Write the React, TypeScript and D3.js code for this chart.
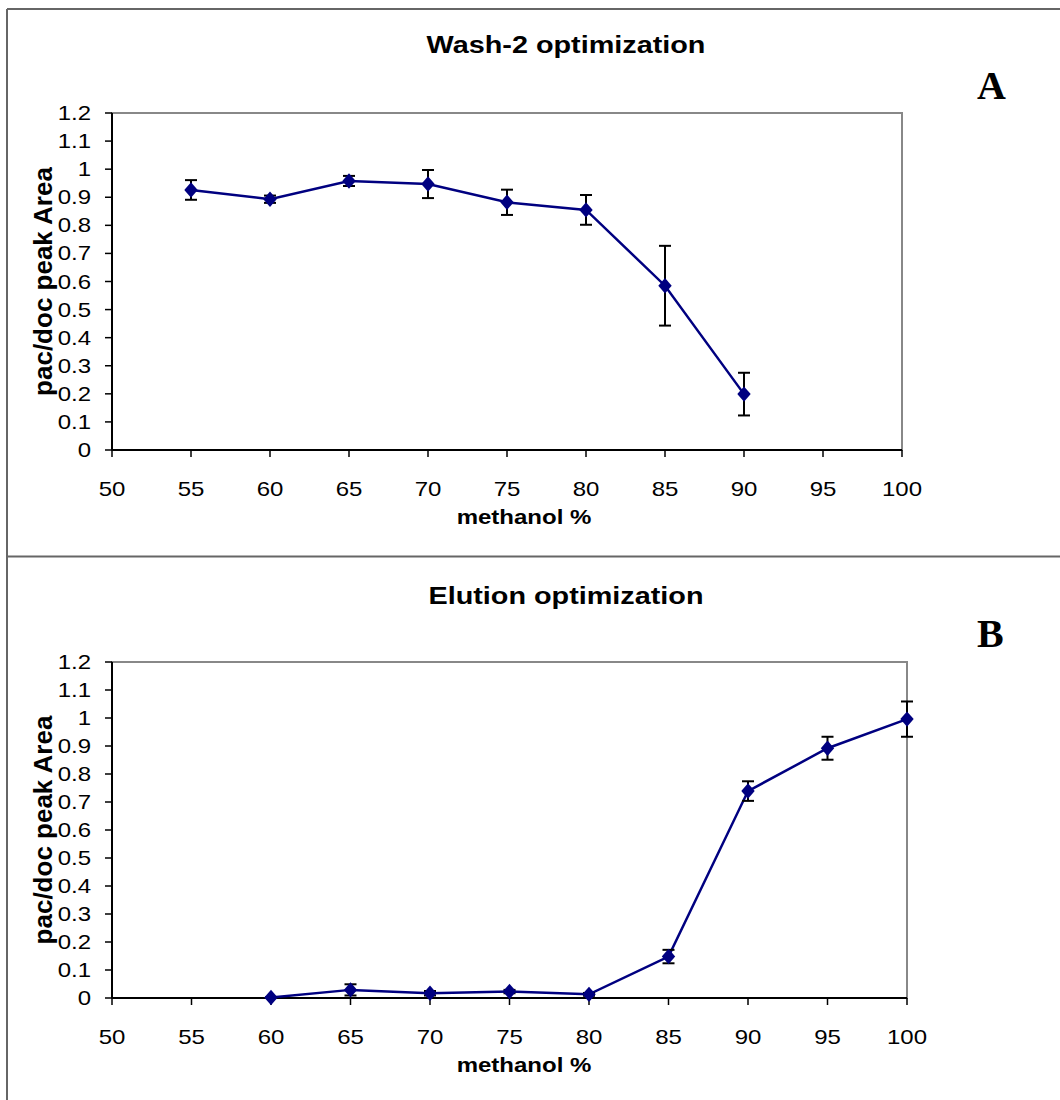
import React from 'react';
import * as d3 from 'd3';

// x axis ticks (methanol %)
const methanolTicks = [50, 55, 60, 65, 70, 75, 80, 85, 90, 95, 100];
const areaTicks = [0, 0.1, 0.2, 0.3, 0.4, 0.5, 0.6, 0.7, 0.8, 0.9, 1, 1.1, 1.2];

// panel A: wash-2
const washX = [55, 60, 65, 70, 75, 80, 85, 90];
const washY = [0.926, 0.893, 0.958, 0.947, 0.882, 0.855, 0.585, 0.199];
const washErr = [0.035, 0.013, 0.018, 0.05, 0.045, 0.053, 0.142, 0.076];

// panel B: elution
const elutionX = [60, 65, 70, 75, 80, 85, 90, 95, 100];
const elutionY = [0.002, 0.029, 0.017, 0.023, 0.013, 0.148, 0.739, 0.892, 0.996];
const elutionErr = [0, 0.02, 0.008, 0.006, 0.005, 0.024, 0.035, 0.041, 0.063];

const SX = 1.2; // the figure is stretched sideways
const sans = 'Liberation Sans, Arial, sans-serif';

function Txt({ x, y, size, bold, anchor, children }: any) {
  return (
    <text transform={`translate(${x},${y}) scale(${SX},1)`} fontFamily={sans} fontSize={size}
      fontWeight={bold ? 'bold' : 'normal'} textAnchor={anchor || 'middle'} fill="#000">{children}</text>
  );
}

function Panel({ xs, ys, errs, box, title, titleY, letter, letterY }: any) {
  const x = d3.scaleLinear().domain([50, 100]).range([box.left, box.right]);
  const y = d3.scaleLinear().domain([0, 1.2]).range([box.bottom, box.top]);
  const pts = xs.map((v: number, i: number) => [v, ys[i], errs[i]]);
  const line = d3.line<any>().x(d => x(d[0])).y(d => y(d[1]));
  const diamond = d3.symbol(d3.symbolSquare, 90)();
  return (
    <g>
      <Txt x={566} y={titleY} size={24} bold>{title}</Txt>
      <text x={977} y={letterY} fontFamily="Liberation Serif, Times New Roman, serif" fontSize={40}
        fontWeight="bold">{letter}</text>

      {/* plot area */}
      <rect x={box.left} y={box.top} width={box.right - box.left} height={box.bottom - box.top}
        fill="#fff" stroke="#888" strokeWidth={2} />
      <line x1={box.left} x2={box.right} y1={box.bottom} y2={box.bottom} stroke="#000" strokeWidth={2} />
      <line x1={box.left} x2={box.left} y1={box.top} y2={box.bottom} stroke="#000" strokeWidth={2} />

      {areaTicks.map(t => (
        <g key={'y' + t}>
          <line x1={box.left - 7} x2={box.left} y1={y(t)} y2={y(t)} stroke="#000" strokeWidth={1.5} />
          <Txt x={91} y={y(t) + 7} size={20} anchor="end">{String(+t.toFixed(1))}</Txt>
        </g>
      ))}
      {methanolTicks.map(t => (
        <g key={'x' + t}>
          <line x1={x(t)} x2={x(t)} y1={box.bottom} y2={box.bottom + 7} stroke="#000" strokeWidth={1.5} />
          <Txt x={x(t)} y={box.bottom + 46} size={20}>{t}</Txt>
        </g>
      ))}
      <Txt x={524} y={box.bottom + 74} size={20} bold>methanol %</Txt>
      <text transform={`translate(52,${(box.top + box.bottom) / 2}) rotate(-90)`} fontFamily={sans}
        fontSize={26} fontWeight="bold" textAnchor="middle">pac/doc peak Area</text>

      <path d={line(pts) || ''} fill="none" stroke="#000080" strokeWidth={2.5} />
      {pts.map((d: any, i: number) => (
        <g key={'e' + i} stroke="#000" strokeWidth={2}>
          <line x1={x(d[0])} x2={x(d[0])} y1={y(d[1] - d[2])} y2={y(d[1] + d[2])} />
          <line x1={x(d[0]) - 6} x2={x(d[0]) + 6} y1={y(d[1] - d[2])} y2={y(d[1] - d[2])} />
          <line x1={x(d[0]) - 6} x2={x(d[0]) + 6} y1={y(d[1] + d[2])} y2={y(d[1] + d[2])} />
        </g>
      ))}
      {pts.map((d: any, i: number) => (
        <path key={'m' + i} d={diamond || ''} fill="#000080"
          transform={`translate(${x(d[0])},${y(d[1])}) scale(1,1.15) rotate(45)`} />
      ))}
    </g>
  );
}

export default function App() {
  return (
    <svg width={1060} height={1100} style={{ position: 'absolute', left: 0, top: 0, background: '#fff' }}>
      <rect x={0} y={0} width={1060} height={1100} fill="#fff" />
      {/* frames */}
      <line x1={7} x2={1060} y1={9} y2={9} stroke="#666" strokeWidth={2} />
      <line x1={7} x2={7} y1={9} y2={1100} stroke="#666" strokeWidth={2} />
      <line x1={7} x2={1060} y1={556.5} y2={556.5} stroke="#666" strokeWidth={2} />

      <Panel xs={washX} ys={washY} errs={washErr}
        box={{ left: 112, right: 902, top: 113, bottom: 450 }}
        title="Wash-2 optimization" titleY={53} letter="A" letterY={99} />
      <Panel xs={elutionX} ys={elutionY} errs={elutionErr}
        box={{ left: 112, right: 907, top: 662, bottom: 998 }}
        title="Elution optimization" titleY={604} letter="B" letterY={647} />
    </svg>
  );
}
